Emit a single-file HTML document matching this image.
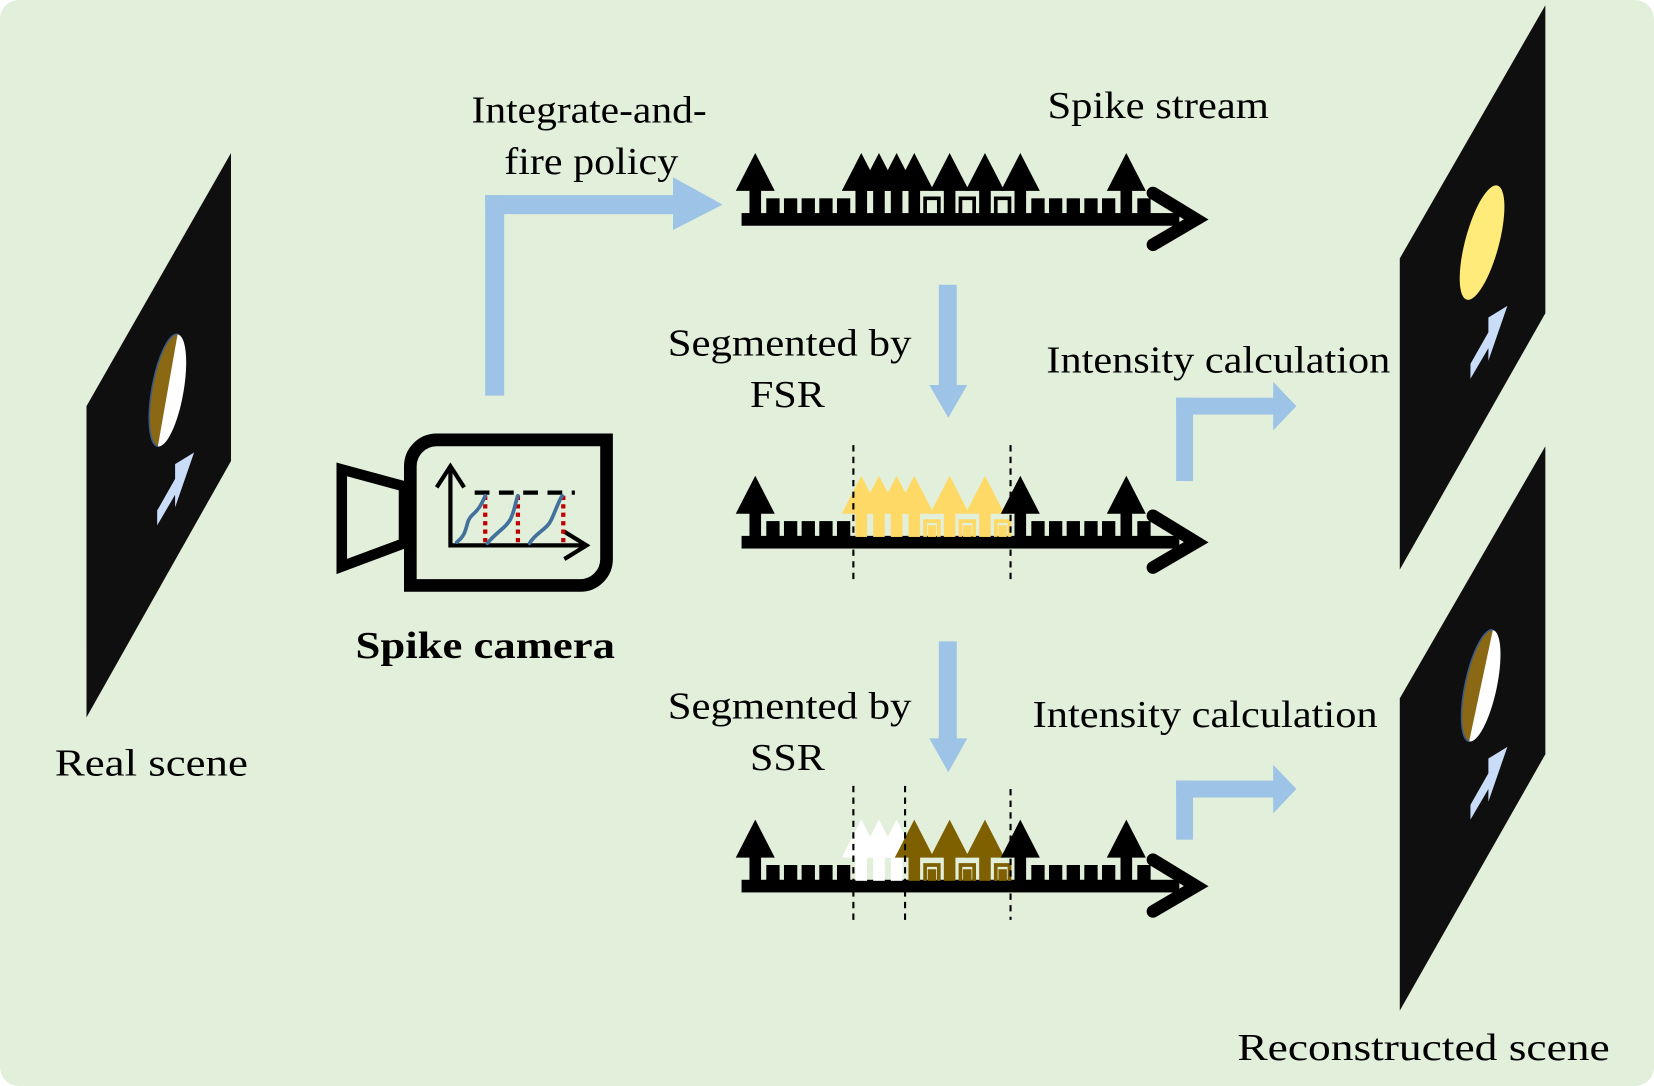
<!DOCTYPE html>
<html><head><meta charset="utf-8"><style>html,body{margin:0;padding:0;background:#fff}svg{display:block}text{font-family:"Liberation Serif",serif;font-size:36px;fill:#000}</style></head>
<body>
<svg width="1654" height="1086" viewBox="0 0 1568 1029.5" preserveAspectRatio="none" xmlns="http://www.w3.org/2000/svg">
<defs>
<g id="sp"><polygon points="-18.5,-21 0,-57 18.5,-21"/><rect x="-5.5" y="-22" width="11" height="23"/></g>
<g id="sq"><rect x="-6.3" y="-14" width="12.6" height="15"/></g>
<g id="ho"><path d="M-6.5,1 V-14 H6.5 V1" fill="none" stroke-width="3.5"/></g>
<g id="hi"><rect x="-4" y="-10" width="8" height="11"/></g>
<g id="axis"><rect x="703" y="0" width="415" height="12"/><polyline points="1093,-19 1134,6 1093,30" fill="none" stroke="#000" stroke-width="12" stroke-linecap="round" stroke-linejoin="miter"/></g>
<clipPath id="lh"><rect x="0" y="0" width="159" height="1000"/></clipPath>
<clipPath id="lh2"><rect x="0" y="0" width="1404" height="1100"/></clipPath>
<polygon id="arr" points="0,0 -18,11 -18,25 -35,55 -35,69 -18,40 -18,52" fill="#c9ddf8"/>
</defs>
<rect x="0" y="0" width="1568" height="1029.5" rx="18" fill="#e2efda"/>

<!-- panels -->
<polygon points="82,385 219,145 219,437 82,680" fill="#0f0f0f"/>
<ellipse cx="159" cy="370" rx="15" ry="54" transform="rotate(10 159 370)" fill="#fff"/>
<ellipse cx="159" cy="370" rx="15" ry="54" transform="rotate(10 159 370)" fill="#8b6914" stroke="#3a5a8a" stroke-width="1.5" clip-path="url(#lh)"/>
<use href="#arr" x="184" y="429"/>

<polygon points="1327,245 1465,5 1465,297 1327,540" fill="#0f0f0f"/>
<ellipse cx="1405" cy="230" rx="16" ry="56" transform="rotate(15 1405 230)" fill="#ffeb7a"/>
<use href="#arr" x="1429" y="290"/>

<polygon points="1327,662 1465,423 1465,715 1327,958" fill="#0f0f0f"/>
<ellipse cx="1404" cy="650" rx="15" ry="54" transform="rotate(12 1404 650)" fill="#fff"/>
<ellipse cx="1404" cy="650" rx="15" ry="54" transform="rotate(12 1404 650)" fill="#8b6914" stroke="#3a5a8a" stroke-width="1.5" clip-path="url(#lh2)"/>
<use href="#arr" x="1429" y="708"/>

<!-- blue arrows -->
<g fill="#9dc3e6">
<rect x="460" y="185" width="18" height="190"/>
<rect x="460" y="185" width="180" height="18"/>
<polygon points="638,168 685,194 638,218"/>
<rect x="890" y="270" width="17" height="96"/>
<polygon points="881,365 917,365 899,396"/>
<rect x="890" y="608" width="17" height="93"/>
<polygon points="881,700 917,700 899,732"/>
<rect x="1115" y="377" width="16" height="79"/>
<rect x="1115" y="377" width="94" height="16"/>
<polygon points="1207,362 1229,385 1207,408"/>
<rect x="1115" y="740" width="16" height="56"/>
<rect x="1115" y="740" width="94" height="16"/>
<polygon points="1207,725 1229,748 1207,771"/>
</g>

<!-- camera -->
<path d="M414,417 H575 V530 A25,25 0 0 1 550,555 H389 V442 A25,25 0 0 1 414,417 Z" fill="none" stroke="#000" stroke-width="12"/>
<polygon points="324,445 383,461 383,515 324,537" fill="none" stroke="#000" stroke-width="10"/>
<g stroke="#000" stroke-width="4" fill="none">
<line x1="427" y1="442" x2="427" y2="519"/>
<polyline points="414,462 427,442 440,462"/>
<line x1="427" y1="517" x2="556" y2="517"/>
<polyline points="535,504 556,517 535,530"/>
<line x1="450" y1="467" x2="545" y2="467" stroke-dasharray="14,9"/>
</g>
<g stroke="#c00000" stroke-width="4" stroke-dasharray="4,4">
<line x1="460" y1="470" x2="460" y2="515"/><line x1="491" y1="470" x2="491" y2="515"/><line x1="534" y1="470" x2="534" y2="515"/>
</g>
<g stroke="#41719c" stroke-width="3.5" fill="none" stroke-linecap="round">
<path d="M433,514 C445,505 440,495 448,488 S458,474 460,470"/>
<path d="M462,515 C470,505 480,500 484,492 S489,474 491,470"/>
<path d="M502,515 C508,505 518,502 522,494 S530,474 533,470"/>
</g>

<!-- train 1 -->
<g transform="translate(0,202)" fill="#000" stroke="#000">
<use href="#axis" stroke="none"/>
<g stroke="none">
<use href="#sq" x="732.75"/><use href="#sq" x="749.5"/><use href="#sq" x="766.25"/><use href="#sq" x="783"/><use href="#sq" x="799.75"/>
<use href="#sq" x="984"/><use href="#sq" x="1000.75"/><use href="#sq" x="1017.5"/><use href="#sq" x="1034.25"/><use href="#sq" x="1051"/><use href="#sq" x="1084.5"/>
</g>
<use href="#ho" x="883.5"/><use href="#ho" x="917"/><use href="#ho" x="950.5"/>
<g stroke="none">
<use href="#sp" x="716"/><use href="#sp" x="816.5"/><use href="#sp" x="833.25"/><use href="#sp" x="850"/><use href="#sp" x="866.75"/><use href="#sp" x="900.25"/><use href="#sp" x="933.75"/><use href="#sp" x="967.25"/><use href="#sp" x="1067.75"/>
</g>
</g>

<!-- train 2 -->
<g transform="translate(0,508)">
<use href="#axis"/>
<g fill="#000">
<use href="#sq" x="732.75"/><use href="#sq" x="749.5"/><use href="#sq" x="766.25"/><use href="#sq" x="783"/><use href="#sq" x="799.75"/>
<use href="#sq" x="984"/><use href="#sq" x="1000.75"/><use href="#sq" x="1017.5"/><use href="#sq" x="1034.25"/><use href="#sq" x="1051"/><use href="#sq" x="1084.5"/>
</g>
<g fill="#ffd966" stroke="#ffd966">
<use href="#ho" x="883.5"/><use href="#ho" x="917"/><use href="#ho" x="950.5"/>
<g stroke="none"><use href="#hi" x="883.5"/><use href="#hi" x="917"/><use href="#hi" x="950.5"/>
<use href="#sp" x="816.5"/><use href="#sp" x="833.25"/><use href="#sp" x="850"/><use href="#sp" x="866.75"/><use href="#sp" x="900.25"/><use href="#sp" x="933.75"/></g>
</g>
<g fill="#000"><use href="#sp" x="716"/><use href="#sp" x="967.25"/><use href="#sp" x="1067.75"/></g>
</g>
<g stroke="#000" stroke-width="2" stroke-dasharray="6,5">
<line x1="809" y1="422" x2="809" y2="550"/><line x1="958" y1="422" x2="958" y2="550"/>
</g>

<!-- train 3 -->
<g transform="translate(0,834)">
<use href="#axis"/>
<g fill="#000">
<use href="#sq" x="732.75"/><use href="#sq" x="749.5"/><use href="#sq" x="766.25"/><use href="#sq" x="783"/><use href="#sq" x="799.75"/>
<use href="#sq" x="984"/><use href="#sq" x="1000.75"/><use href="#sq" x="1017.5"/><use href="#sq" x="1034.25"/><use href="#sq" x="1051"/><use href="#sq" x="1084.5"/>
</g>
<g fill="#fff"><use href="#sp" x="816.5"/><use href="#sp" x="833.25"/><use href="#sp" x="850"/></g>
<g fill="#7f6000" stroke="#7f6000">
<use href="#ho" x="883.5"/><use href="#ho" x="917"/><use href="#ho" x="950.5"/>
<g stroke="none"><use href="#hi" x="883.5"/><use href="#hi" x="917"/><use href="#hi" x="950.5"/>
<use href="#sp" x="866.75"/><use href="#sp" x="900.25"/><use href="#sp" x="933.75"/></g>
</g>
<g fill="#000"><use href="#sp" x="716"/><use href="#sp" x="967.25"/><use href="#sp" x="1067.75"/></g>
</g>
<g stroke="#000" stroke-width="2" stroke-dasharray="6,5">
<line x1="809" y1="745" x2="809" y2="872"/><line x1="858" y1="745" x2="858" y2="872"/><line x1="958" y1="748" x2="958" y2="872"/>
</g>

<!-- text -->
<text x="447" y="116" textLength="223" lengthAdjust="spacingAndGlyphs">Integrate-and-</text>
<text x="478" y="165" textLength="165" lengthAdjust="spacingAndGlyphs">fire policy</text>
<text x="993" y="112" textLength="210" lengthAdjust="spacingAndGlyphs">Spike stream</text>
<text x="633" y="337" textLength="231" lengthAdjust="spacingAndGlyphs">Segmented by</text>
<text x="711" y="386" textLength="71" lengthAdjust="spacingAndGlyphs">FSR</text>
<text x="992" y="353" textLength="326" lengthAdjust="spacingAndGlyphs">Intensity calculation</text>
<text x="633" y="681" textLength="231" lengthAdjust="spacingAndGlyphs">Segmented by</text>
<text x="711" y="730" textLength="71" lengthAdjust="spacingAndGlyphs">SSR</text>
<text x="979" y="689" textLength="327" lengthAdjust="spacingAndGlyphs">Intensity calculation</text>
<text x="337" y="624" font-weight="bold" textLength="246" lengthAdjust="spacingAndGlyphs">Spike camera</text>
<text x="52" y="735" textLength="183" lengthAdjust="spacingAndGlyphs">Real scene</text>
<text x="1173" y="1005" textLength="353" lengthAdjust="spacingAndGlyphs">Reconstructed scene</text>
</svg>
</body></html>
